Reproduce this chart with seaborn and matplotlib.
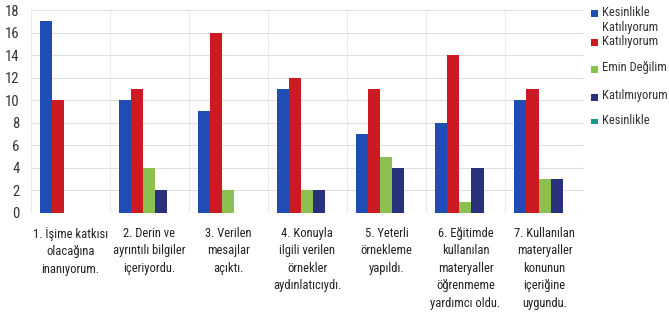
import matplotlib
matplotlib.use('Agg')
import matplotlib.pyplot as plt
from matplotlib import font_manager
from matplotlib.patches import Rectangle
from matplotlib.transforms import Bbox, TransformedBbox
import pandas as pd
import seaborn as sns

categories = ['1. İşime katkısı\nolacağına\ninanıyorum.',
              '2. Derin ve\nayrıntılı bilgiler\niçeriyordu.',
              '3. Verilen\nmesajlar\naçıktı.',
              '4. Konuyla\nilgili verilen\nörnekler\naydınlatıcıydı.',
              '5. Yeterli\nörnekleme\nyapıldı.',
              '6. Eğitimde\nkullanılan\nmateryaller\nöğrenmeme\nyardımcı oldu.',
              '7. Kullanılan\nmateryaller\nkonunun\niçeriğine\nuygundu.']
series = ['Kesinlikle\nKatılıyorum', 'Katılıyorum', 'Emin Değilim', 'Katılmıyorum', 'Kesinlikle\nKatılmıyorum']
kesinlikle_katiliyorum = [17, 10, 9, 11, 7, 8, 10]
katiliyorum = [10, 11, 16, 12, 11, 14, 11]
emin_degilim = [0, 4, 2, 2, 5, 1, 3]
katilmiyorum = [0, 2, 0, 2, 4, 4, 3]
kesinlikle_katilmiyorum = [0, 0, 0, 0, 0, 0, 0]
colors = ['#1f4db3', '#cc1a22', '#8cc152', '#2a317c', '#1f9590']

values = [kesinlikle_katiliyorum, katiliyorum, emin_degilim, katilmiyorum, kesinlikle_katilmiyorum]
rows = []
for s, vals in zip(series, values):
    for c, v in zip(categories, vals):
        rows.append({'kategori': c, 'yanit': s, 'sayi': v})
df = pd.DataFrame(rows)

# narrow font if there is one (the original looks like Calibri)
installed = {f.name for f in font_manager.fontManager.ttflist}
narrow = 'DejaVu Sans'
for name in ['Liberation Sans Narrow', 'Roboto Condensed', 'Open Sans Condensed', 'Liberation Sans']:
    if name in installed:
        narrow = name
        break
small = 9 if narrow != 'Liberation Sans' else 8

sns.set_style('white')
plt.rcParams['font.family'] = [narrow, 'DejaVu Sans']

W, H = 669, 325
fig = plt.figure(figsize=(W / 100, H / 100), dpi=100)
ax = fig.add_axes([0.046, 0.345, 0.827, 0.624])
sns.barplot(data=df, x='kategori', y='sayi', hue='yanit', order=categories, hue_order=series,
            palette=colors, width=0.76, gap=0, saturation=1, linewidth=0, ax=ax, legend=False)

ax.set_ylim(0, 18)
ax.set_xlim(-0.5, 6.5)
ax.set_yticks(range(0, 19, 2))
ax.set_xlabel('')
ax.set_ylabel('')
ax.set_xticks(range(len(categories)))
ax.set_xticklabels(categories, fontsize=small, linespacing=1.45, color='#222222')
ax.tick_params(axis='y', labelsize=10.5, colors='#333333', length=0, pad=8)
ax.tick_params(axis='x', length=0, pad=10)
ax.set_xticks([i + 0.5 for i in range(-1, 7)], minor=True)
ax.tick_params(axis='x', which='minor', length=0)
ax.grid(True, axis='y', color='#e0e0e0', linewidth=0.8)
ax.grid(True, axis='x', which='minor', color='#ececec', linewidth=0.8)
ax.grid(False, axis='x', which='major')
ax.set_axisbelow(True)
for sp in ax.spines.values():
    sp.set_visible(False)

# legend laid out like the original (squeezed, last entry cut off)
legend_rows = [13, 42, 69, 97, 122]
clip = TransformedBbox(Bbox([[0, 1 - 123.5 / H], [1, 1]]), fig.transFigure)
for lab, col, yp in zip(series, colors, legend_rows):
    sq = Rectangle(((591) / W, 1 - (yp + 3.5) / H), 7 / W, 7 / H, transform=fig.transFigure,
                   facecolor=col, edgecolor='none')
    sq.set_clip_box(clip)
    sq.set_clip_on(True)
    fig.patches.append(sq)
    t = fig.text(602 / W, 1 - (yp - 7.5) / H, lab, fontsize=small, color='#333333',
                 va='top', ha='left', linespacing=1.25)
    t.set_clip_box(clip)
    t.set_clip_on(True)

fig.savefig('out.png', dpi=100)
